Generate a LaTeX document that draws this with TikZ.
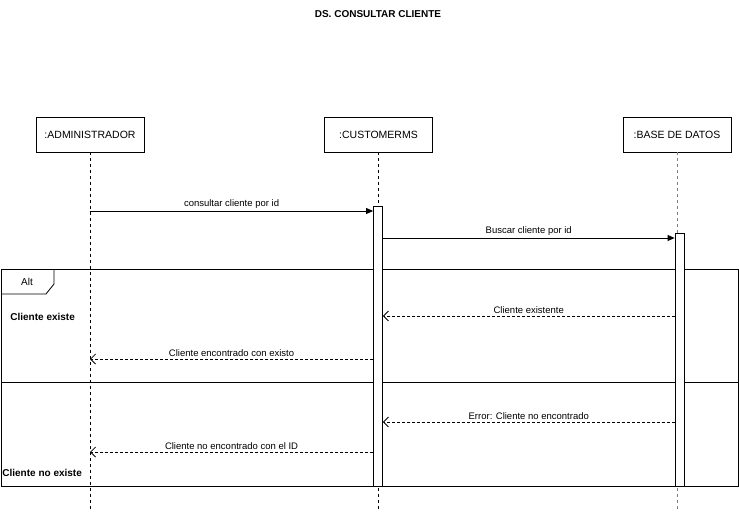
\documentclass[tikz,border=0pt]{standalone}
\usepackage{fontspec}
\setmainfont{Liberation Sans}
\usetikzlibrary{arrows.meta}

\tikzset{
  actor/.style={draw, minimum width=108, minimum height=35, inner sep=0pt, font=\fontsize{10.5}{12}\selectfont},
  act/.style={draw, fill=white, minimum width=9, inner sep=0pt},
  life/.style={dash pattern=on 3pt off 3pt},
  call/.style={-{Triangle[length=7pt,width=6pt]}},
  reply/.style={dash pattern=on 3pt off 2pt, -{Straight Barb[length=5pt,width=10pt]}},
  msg/.style={above, inner sep=2.5pt, font=\fontsize{9.5}{11}\selectfont},
  guard/.style={font=\bfseries\fontsize{10}{12}\selectfont, inner sep=0pt}
}

\begin{document}
\begin{tikzpicture}[x=1pt, y=-1pt, line width=0.8pt]
\useasboundingbox (0,0) rectangle (739,517);

\node[font=\bfseries\fontsize{10}{12}\selectfont] (title) at (378,14) {DS. CONSULTAR CLIENTE};

% lifelines
\node[actor] (adm) at (90,134.5) {:ADMINISTRADOR};
\node[actor] (cms) at (378.5,134.5) {:CUSTOMERMS};
\node[actor] (bd) at (677,134.5) {:BASE DE DATOS};
\coordinate (bot) at (0,512);
\draw[life] (adm.south) -- (adm.south |- bot);
\draw[life] (cms.south) -- (cms.south |- bot);
\draw[life, gray] (bd.south) -- (bd.south |- bot);

% alt frame
\draw (1,269) rectangle (738,486);
\draw (1,294) -- (46,294) -- (54,284) -- (54,269);
\draw (1,382) -- (738,382);
\node[font=\fontsize{10}{12}\selectfont] (alt) at (27,282) {Alt};
\node[guard, anchor=west] (g1) at (10,317) {Cliente existe};
\node[guard, anchor=west] (g2) at (2,473) {Cliente no existe};

% activations
\node[act, minimum height=280] (actCms) at (378,346) {};
\node[act, minimum height=253] (actBd) at (679.5,359.5) {};

% messages
\coordinate (m1) at (0,211);
\coordinate (m2) at (0,238);
\coordinate (m3) at (0,316);
\coordinate (m4) at (0,359);
\coordinate (m5) at (0,422);
\coordinate (m6) at (0,452);
\draw[call] (adm |- m1) -- (actCms.west |- m1) node[msg, midway] {consultar cliente por id};
\draw[call] (actCms.east |- m2) -- (actBd.west |- m2) node[msg, midway] {Buscar cliente por id};
\draw[reply] (actBd.west |- m3) -- (actCms.east |- m3) node[msg, midway] {Cliente existente};
\draw[reply] (actCms.west |- m4) -- (adm |- m4) node[msg, midway] {Cliente encontrado con existo};
\draw[reply] (actBd.west |- m5) -- (actCms.east |- m5) node[msg, midway] {Error: Cliente no encontrado};
\draw[reply] (actCms.west |- m6) -- (adm |- m6) node[msg, midway] {Cliente no encontrado con el ID};
\end{tikzpicture}
\end{document}
